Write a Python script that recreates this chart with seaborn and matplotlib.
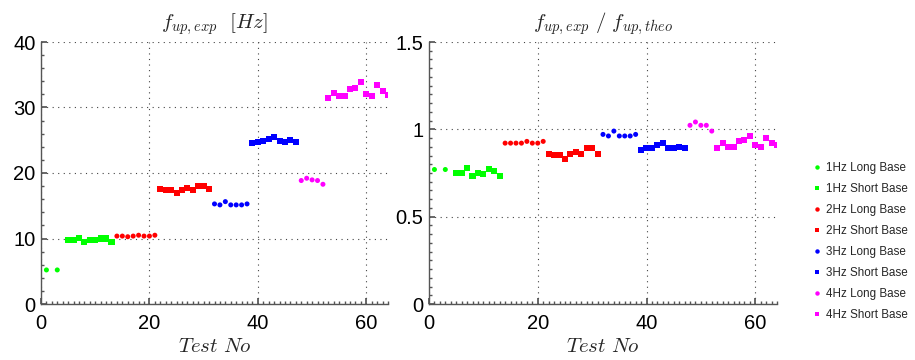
import numpy as np
import pandas as pd
import matplotlib
matplotlib.use("Agg")
import matplotlib.pyplot as plt
import seaborn as sns
from matplotlib.lines import Line2D
from matplotlib.ticker import MultipleLocator

# ---------------- data ----------------
series_names = ["1Hz Long Base", "1Hz Short Base", "2Hz Long Base", "2Hz Short Base",
                "3Hz Long Base", "3Hz Short Base", "4Hz Long Base", "4Hz Short Base"]

g_long_x = [1, 3]
g_long_f = [5.2, 5.2]
g_long_r = [0.770, 0.770]

g_short_x = [5, 6, 7, 8, 9, 10, 11, 12, 13]
g_short_f = [9.8, 9.8, 10.1, 9.5, 9.8, 9.8, 10.0, 10.0, 9.5]
g_short_r = [0.749, 0.749, 0.778, 0.732, 0.749, 0.743, 0.772, 0.760, 0.732]

r_long_x = [14, 15, 16, 17, 18, 19, 20, 21]
r_long_f = [10.37, 10.37, 10.27, 10.37, 10.5, 10.37, 10.37, 10.5]
r_long_r = [0.921, 0.921, 0.921, 0.921, 0.931, 0.921, 0.921, 0.931]

r_short_x = [22, 23, 24, 25, 26, 27, 28, 29, 30, 31]
r_short_f = [17.5, 17.4, 17.4, 16.9, 17.4, 17.7, 17.4, 18.0, 18.0, 17.5]
r_short_r = [0.858, 0.852, 0.852, 0.829, 0.858, 0.870, 0.858, 0.893, 0.893, 0.858]

b_long_x = [32, 33, 34, 35, 36, 37, 38]
b_long_f = [15.28, 15.13, 15.63, 15.13, 15.13, 15.13, 15.28]
b_long_r = [0.971, 0.962, 0.990, 0.962, 0.962, 0.962, 0.971]

b_short_x = [39, 40, 41, 42, 43, 44, 45, 46, 47]
b_short_f = [24.57, 24.72, 24.87, 25.18, 25.49, 24.87, 24.72, 25.03, 24.72]
b_short_r = [0.881, 0.893, 0.893, 0.910, 0.921, 0.893, 0.893, 0.898, 0.893]

m_long_x = [48, 49, 50, 51, 52]
m_long_f = [18.85, 19.2, 18.95, 18.85, 18.28]
m_long_r = [1.023, 1.042, 1.023, 1.023, 0.990]

m_short_x = [53, 54, 55, 56, 57, 58, 59, 60, 61, 62, 63, 64]
m_short_f = [31.46, 32.23, 31.77, 31.77, 32.84, 33.0, 33.9, 32.08, 31.77, 33.46, 32.54, 31.92]
m_short_r = [0.893, 0.921, 0.898, 0.898, 0.933, 0.939, 0.962, 0.910, 0.898, 0.950, 0.921, 0.910]

x_ticks = [0, 20, 40, 60]
left_y_ticks = [0, 10, 20, 30, 40]
right_y_ticks = [0, 0.5, 1, 1.5]
right_y_labels = ["0", "0.5", "1", "1.5"]

# ---------------- table ----------------
groups = [
    (g_long_x, g_long_f, g_long_r), (g_short_x, g_short_f, g_short_r),
    (r_long_x, r_long_f, r_long_r), (r_short_x, r_short_f, r_short_r),
    (b_long_x, b_long_f, b_long_r), (b_short_x, b_short_f, b_short_r),
    (m_long_x, m_long_f, m_long_r), (m_short_x, m_short_f, m_short_r),
]
rows = []
for name, (xs, fs, rs) in zip(series_names, groups):
    for x, f, r in zip(xs, fs, rs):
        rows.append({"test": x, "fexp": f, "ratio": r, "series": name,
                     "shape": "Long" if "Long" in name else "Short"})
df = pd.DataFrame(rows)

colors = ["#00ff00", "#00ff00", "#ff0000", "#ff0000",
          "#0000ff", "#0000ff", "#ff00ff", "#ff00ff"]
palette = dict(zip(series_names, colors))
markers = {"Long": "o", "Short": "s"}

# ---------------- figure ----------------
sns.set_theme(style="white")
plt.rcParams["font.family"] = ["Liberation Sans", "DejaVu Sans"]
plt.rcParams["mathtext.fontset"] = "cm"

fig = plt.figure(figsize=(9.15, 3.6), dpi=100)
W, H = 915, 360
axL = fig.add_axes([41 / W, (H - 304) / H, 347 / W, 262 / H])
axR = fig.add_axes([429 / W, (H - 304) / H, 348 / W, 262 / H])

for ax, ycol in [(axL, "fexp"), (axR, "ratio")]:
    for shp, size in [("Long", 13), ("Short", 19)]:
        sub = df[df["shape"] == shp]
        sns.scatterplot(data=sub, x="test", y=ycol, hue="series", palette=palette,
                        marker=markers[shp], s=size, linewidth=0, edgecolor="none",
                        ax=ax, legend=False, zorder=3)
    ax.set_xlim(0, 64)
    ax.set_xticks(x_ticks)
    ax.xaxis.set_minor_locator(MultipleLocator(1))
    ax.grid(True, which="major", linestyle=(0, (1, 4)), color="#444444", linewidth=0.8)
    for s in ["top", "right"]:
        ax.spines[s].set_visible(False)
    for s in ["left", "bottom"]:
        ax.spines[s].set_color("#555555")
        ax.spines[s].set_linewidth(1.0)
    ax.tick_params(which="both", direction="in", left=True, bottom=True,
                   top=False, right=False, colors="#555555", labelcolor="black",
                   labelsize=14.5)
    ax.tick_params(axis="x", which="major", pad=7)
    ax.tick_params(axis="y", which="major", pad=4)
    ax.tick_params(which="major", length=4)
    ax.tick_params(which="minor", length=2)
    ax.set_xlabel(r"$Test\ No$", fontsize=15, labelpad=3)
    ax.set_ylabel("")

axL.set_ylim(0, 40)
axL.set_yticks(left_y_ticks)
axL.yaxis.set_minor_locator(MultipleLocator(2))
axL.set_title(r"$f_{up,exp}\ \ [Hz]$", fontsize=15, pad=10)

axR.set_ylim(0, 1.5)
axR.set_yticks(right_y_ticks)
axR.set_yticklabels(right_y_labels)
axR.yaxis.set_minor_locator(MultipleLocator(0.05))
axR.set_title(r"$f_{up,exp}\ /\ f_{up,theo}$", fontsize=15, pad=10)

handles = []
for name, c in zip(series_names, colors):
    m = "o" if "Long" in name else "s"
    handles.append(Line2D([0], [0], marker=m, linestyle="none", color=c,
                          markersize=3.2 if m == "o" else 3.4, markeredgewidth=0))
fig.legend(handles, series_names, loc="upper left", bbox_to_anchor=(806 / W, 1 - 157 / H),
           frameon=False, fontsize=8.4, labelspacing=0.78, handlelength=1.0,
           handletextpad=0.35, borderaxespad=0)

fig.savefig("out.png", dpi=100)
